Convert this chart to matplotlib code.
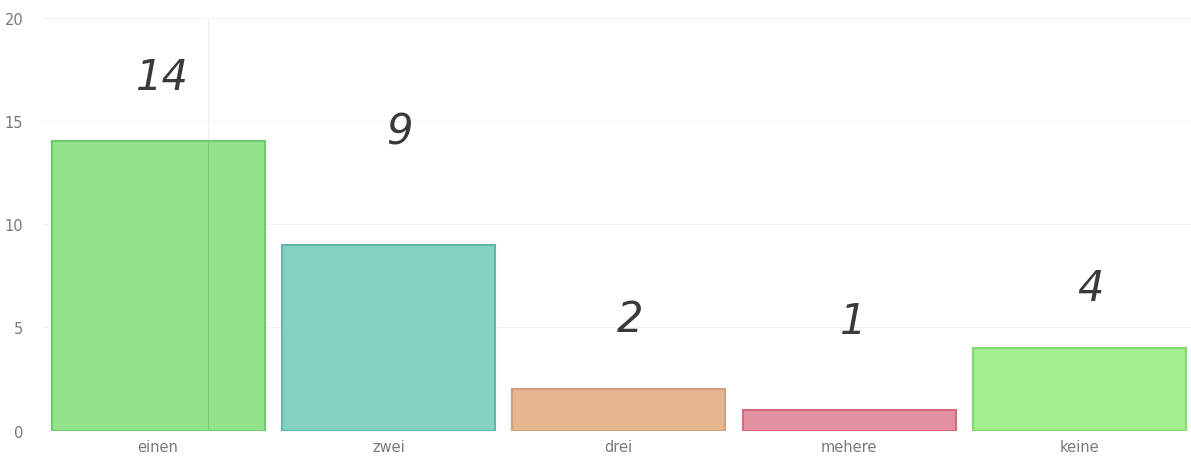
import numpy as np
import matplotlib.pyplot as plt

# Data
categories = ['einen', 'zwei', 'drei', 'mehere', 'keine']
counts = [14, 9, 2, 1, 4]
bar_colors = ['#93e38c', '#84d2c2', '#e6b691', '#e391a0', '#a3f08e']
edge_colors = ['#6fcb6b', '#62b8a8', '#d59d7a', '#d56a7c', '#84da72']
# handwritten numbers sit a bit above each bar (offset in data units)
label_offsets = [3.1, 5.5, 3.4, 4.3, 2.9]
label_dx = [0.02, 0.05, 0.05, 0.02, 0.05]

fig = plt.figure(figsize=(11.91, 4.64), dpi=100)
ax = fig.add_axes([0.036, 0.07, 0.967, 0.89])

x = np.arange(len(categories))
ax.bar(x, counts, width=0.925, color=bar_colors, edgecolor=edge_colors,
       linewidth=1.5, zorder=2)

# faint vertical line seen across the first bar
ax.axvline(0.215, color='#eeeeee', linewidth=0.8, zorder=1)
ax.vlines(0.215, 0, counts[0], color='#6cbf6a', linewidth=0.8, alpha=0.7, zorder=3)

for xi, c, off, dx in zip(x, counts, label_offsets, label_dx):
    ax.text(xi + dx, c + off, str(c), ha='center', va='center',
            fontsize=30, style='italic', color='#3a3a3a',
            fontfamily='DejaVu Sans', fontweight='light', zorder=4)

ax.set_xlim(-0.5, len(categories) - 0.5)
ax.set_ylim(0, 20)
ax.set_yticks([0, 5, 10, 15, 20])
ax.set_xticks(x)
ax.set_xticklabels(categories)
ax.tick_params(axis='both', length=0, labelsize=10.5, labelcolor='#7a7a7a')
ax.tick_params(axis='y', pad=14)
ax.tick_params(axis='x', pad=6)
ax.grid(axis='y', color='#f2f2f2', linewidth=0.8, zorder=0)
for s in ax.spines.values():
    s.set_visible(False)

fig.savefig('out.png', dpi=100)
